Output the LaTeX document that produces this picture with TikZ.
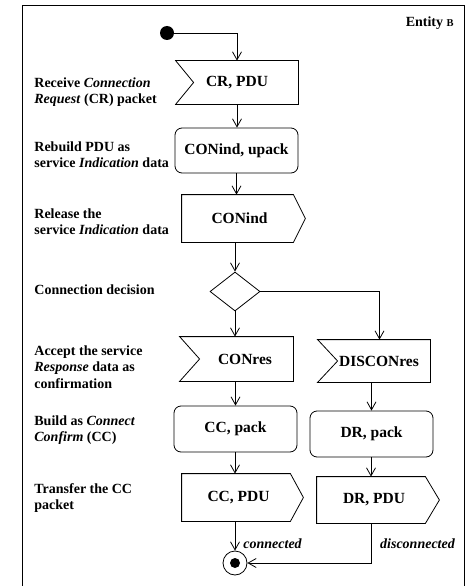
\documentclass[tikz,border=0pt]{standalone}
\usepackage{fontspec}
\setmainfont{Liberation Serif}
\usetikzlibrary{arrows.meta,shapes.geometric,calc}
\newcommand\RecvOutline[2]{\draw (#1.north west) -- (#1.north east) -- (#1.south east) -- (#1.south west) -- ($(#1.west)+(#2,0)$) -- cycle;}
\newcommand\SendOutline[2]{\draw (#1.north west) -- (#1.north east) -- ($(#1.east)+(#2,0)$) -- (#1.south east) -- (#1.south west) -- cycle;}
\begin{document}
\begin{tikzpicture}[x=1pt,y=-1pt,line width=0.8pt,
  box/.style={rectangle,draw=none,inner sep=0pt,font=\fontsize{15.5}{18}\selectfont\bfseries},
  rbox/.style={rectangle,draw,rounded corners=7pt,inner sep=0pt,font=\fontsize{15.5}{18}\selectfont\bfseries},
  lab/.style={anchor=base west,align=left,inner sep=0pt,font=\fontsize{14}{16.7}\selectfont\bfseries},
  arr/.style={-{Straight Barb[length=8pt,width=9pt]}},
  flowlab/.style={inner sep=0pt,font=\fontsize{14}{16.7}\selectfont\bfseries\itshape}]
\useasboundingbox (0,0) rectangle (465,586);
% frame
\draw (22,592) -- (22,5) -- (464,5) -- (464,592);
\node[anchor=base east,inner sep=0pt,font=\fontsize{14}{16.7}\selectfont\bfseries] (ent) at (454,27) {Entity {\fontsize{10.5}{12}\selectfont B}};
% nodes
\node[circle,fill,inner sep=0pt,minimum size=14pt] (init) at (167,33) {};
\node[box,minimum width=122pt,minimum height=43pt] (cr) at (237,82.5) {CR, PDU};
\RecvOutline{cr}{18}
\node[rbox,minimum width=123pt,minimum height=45pt] (cu) at (236.5,150.5) {CONind, upack};
\node[box,minimum width=111pt,minimum height=47pt] (ci) at (237.5,218.5) {\hspace*{4pt}CONind};
\SendOutline{ci}{12}
\node[diamond,draw,inner sep=0pt,minimum width=50pt,minimum height=39pt] (dec) at (235,291.5) {};
\node[box,minimum width=113pt,minimum height=44pt] (cres) at (236.5,359) {\hspace*{17pt}CONres};
\RecvOutline{cres}{20}
\node[box,minimum width=112pt,minimum height=42pt] (dres) at (374,361) {\hspace*{10pt}DISCONres};
\RecvOutline{dres}{20}
\node[rbox,minimum width=123pt,minimum height=46pt] (ccp) at (235.5,429) {CC, pack};
\node[rbox,minimum width=123pt,minimum height=46pt] (drp) at (371.5,434) {DR, pack};
\node[box,minimum width=108pt,minimum height=47pt] (ccd) at (236,497.5) {\hspace*{5pt}CC, PDU};
\SendOutline{ccd}{13}
\node[box,minimum width=108pt,minimum height=46pt] (drd) at (371,500) {\hspace*{6pt}DR, PDU};
\SendOutline{drd}{14}
\node[circle,draw,inner sep=0pt,minimum size=24pt] (fin) at (235,563) {};
\node[circle,fill,inner sep=0pt,minimum size=10pt] (findot) at (fin.center) {};
% connectors
\draw[arr] (init.east) -- (init.east -| cr.north) -- (cr.north);
\draw[arr] (cr.south) -- (cr.south |- cu.north);
\draw[arr] (cu.south) -- (cu.south |- ci.north);
\draw[arr] (dec.north |- ci.south) -- (dec.north);
\draw[arr] (dec.south) -- (dec.south |- cres.north);
\draw[arr] (dec.east) -| ([xshift=5.5pt]dres.north);
\draw[arr] (ccp.north |- cres.south) -- (ccp.north);
\draw[arr] (drp.north |- dres.south) -- (drp.north);
\draw[arr] (fin.north |- ccp.south) -- (fin.north |- ccd.north);
\draw[arr] (drd.north |- drp.south) -- (drd.north);
\draw[arr] (fin.north |- ccd.south) -- (fin.north);
\draw[arr] (drd.south) |- (fin.east);
\node[flowlab,anchor=base west] (lc) at (243,548) {connected};
\node[flowlab,anchor=base] (ld) at (417.5,548) {disconnected};
% left labels (anchor = baseline of the last line)
\node[lab] (l1) at (34,103.7) {Receive \textit{Connection}\\\textit{Request} (CR) packet};
\node[lab] (l2) at (34,167.7) {Rebuild PDU as\\service \textit{Indication} data};
\node[lab] (l3) at (34,234.7) {Release the\\service \textit{Indication} data};
\node[lab] (l4) at (34,294) {Connection decision};
\node[lab] (l5) at (34,388.4) {Accept the service\\\textit{Response} data as\\confirmation};
\node[lab] (l6) at (34,441.7) {Build as \textit{Connect}\\\textit{Confirm} (CC)};
\node[lab] (l7) at (34,509.7) {Transfer the CC\\packet};
\end{tikzpicture}
\end{document}
